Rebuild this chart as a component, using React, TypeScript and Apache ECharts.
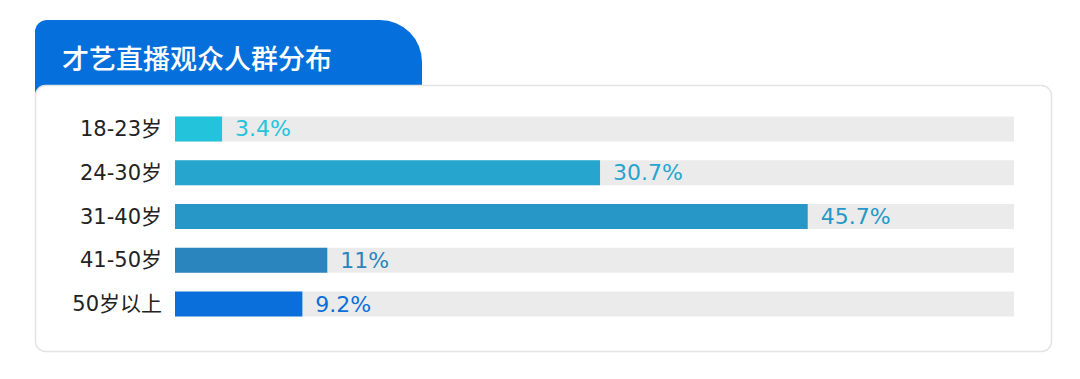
import React, { useEffect, useRef } from "react";
import * as echarts from "echarts";

const categories = ["18-23岁", "24-30岁", "31-40岁", "41-50岁", "50岁以上"];
const values = [3.4, 30.7, 45.7, 11, 9.2];
const valueLabels = ["3.4%", "30.7%", "45.7%", "11%", "9.2%"];
const barColors = ["#24C3DC", "#26A6CF", "#2697C6", "#2A85BE", "#0A6FDA"];
const title = "才艺直播观众人群分布";

export default function App() {
  const ref = useRef<HTMLDivElement>(null);
  useEffect(() => {
    if (!ref.current) return;
    const chart = echarts.init(ref.current, null, { renderer: "svg" });
    chart.setOption({
      animation: false,
      backgroundColor: "#ffffff",
      graphic: [
        {
          type: "rect",
          z: -10,
          shape: { x: 35, y: 20, width: 387, height: 75, r: [12, 42, 0, 0] },
          style: { fill: "#0570DB" },
        },
        {
          type: "rect",
          z: -9,
          shape: { x: 35.5, y: 85.5, width: 1016, height: 266, r: 10 },
          style: { fill: "#ffffff", stroke: "#E4E4E4", lineWidth: 1.5 },
        },
        {
          type: "text",
          z: 10,
          x: 62,
          y: 57,
          style: {
            text: title,
            fill: "#ffffff",
            fontSize: 27,
            fontWeight: 500,
            fontFamily: "Noto Sans CJK SC",
            verticalAlign: "middle",
          },
        },
      ],
      grid: { left: 175, right: 66, top: 107, bottom: 53 },
      xAxis: {
        type: "value",
        min: 0,
        max: 60.6,
        show: false,
      },
      yAxis: {
        type: "category",
        data: categories,
        inverse: true,
        axisLine: { show: false },
        axisTick: { show: false },
        splitLine: { show: false },
        axisLabel: {
          margin: 13,
          color: "#222222",
          fontSize: 21,
          fontFamily: "DejaVu Sans, Noto Sans CJK SC",
        },
      },
      series: [
        {
          type: "bar",
          barWidth: 25,
          showBackground: true,
          backgroundStyle: { color: "#EBEBEB" },
          data: values.map((v, i) => ({
            value: v,
            itemStyle: { color: barColors[i] },
            label: {
              show: true,
              position: "right",
              distance: 13,
              formatter: valueLabels[i],
              color: barColors[i],
              fontSize: 22,
              fontFamily: "DejaVu Sans",
            },
          })),
        },
      ],
    });
    return () => chart.dispose();
  }, []);
  return (
    <div
      ref={ref}
      style={{ position: "absolute", left: 0, top: 0, width: 1080, height: 379 }}
    />
  );
}
